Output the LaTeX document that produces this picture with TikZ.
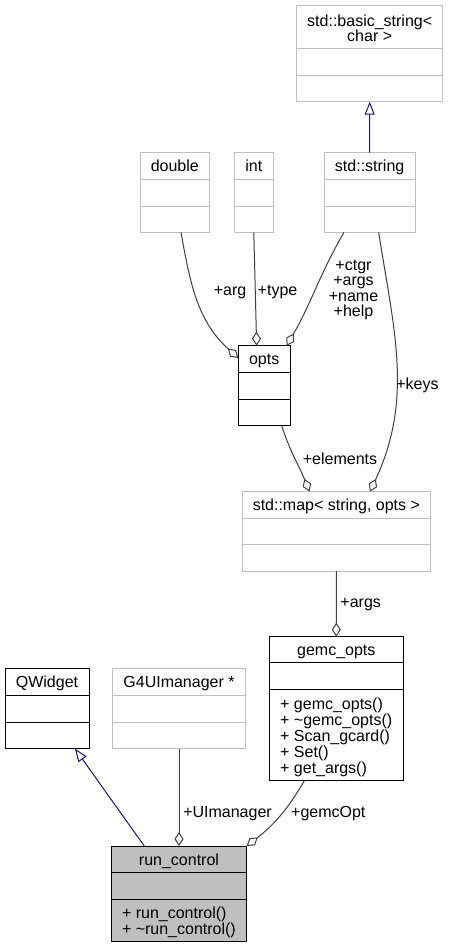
\documentclass[tikz,border=0pt]{standalone}
\usepackage{fontspec}
\setmainfont{Liberation Sans}
\usetikzlibrary{
  arrows.meta,
  positioning,
}
\definecolor{extgray}{HTML}{BFBFBF}
\definecolor{edgegray}{HTML}{404040}
\definecolor{inhblue}{HTML}{191970}
\tikzset{
  cls/.style={
    rectangle,
    draw=black,
    line width=1pt,
    anchor=north west,
    inner sep=0,
    outer sep=0,
  },
  ext/.style={
    cls,
    draw=extgray,
  },
  boxsize/.style 2 args={
    minimum width=#1,
    minimum height=#2,
  },
  sep/.style={
    line width=1pt,
  },
  title/.style={
    inner sep=0,
    text height=12,
    text depth=0.6,
  },
  members/.style={
    inner sep=0,
    anchor=west,
    align=left,
  },
  assoc/.style={
    draw=edgegray,
    line width=1pt,
    -{Diamond[open, length=14pt, width=9pt]},
  },
  inherit/.style={
    draw=inhblue,
    line width=1pt,
    -{Triangle[open, length=13pt, width=10pt]},
  },
}

\begin{document}
\begin{tikzpicture}[
    x=1pt, y=-1pt,
    font=\fontsize{16}{16}\selectfont,
  ]
  \fill[white] (0,0) rectangle (448,948);
  \useasboundingbox (0,0) rectangle (448,948);

  % Library classes
  \node (basic_str) [ext, boxsize={146}{96}] at (296.7,5.7) {};
  \node (dbl) [ext, boxsize={69}{79.6}] at (140.3,152.7) {};
  \node (int) [ext, boxsize={39}{79.6}] at (234.3,152.7) {};
  \node (std_str) [ext, boxsize={90.7}{79.6}] at (324.3,152.7) {};
  \node (str_map) [ext, boxsize={188.7}{79.3}] at (242,491.7) {};
  \node (uimanager) [ext, boxsize={132.6}{80}] at (112.7,668.7) {};

  % Documented classes
  \node (opts) [cls, boxsize={51.7}{80}] at (238.3,345.7) {};
  \node (gemc_opts) [cls, boxsize={134}{144}] at (269.3,636.7) {};
  \node (qwidget) [cls, boxsize={84}{80}] at (5,668.7) {};
  \node (run_ctrl) [cls, boxsize={135.4}{95.7}, fill=gray!50] at (111.3,846) {};

  % Compartments
  \draw[extgray, sep] ([yshift=-42.6]basic_str.north west) -- ([yshift=-42.6]basic_str.north east);
  \draw[extgray, sep] ([yshift=-69.3]basic_str.north west) -- ([yshift=-69.3]basic_str.north east);
  \draw[extgray, sep] ([yshift=-26.6]dbl.north west) -- ([yshift=-26.6]dbl.north east);
  \draw[extgray, sep] ([yshift=-53.3]dbl.north west) -- ([yshift=-53.3]dbl.north east);
  \draw[extgray, sep] ([yshift=-26.6]int.north west) -- ([yshift=-26.6]int.north east);
  \draw[extgray, sep] ([yshift=-53.3]int.north west) -- ([yshift=-53.3]int.north east);
  \draw[extgray, sep] ([yshift=-26.6]std_str.north west) -- ([yshift=-26.6]std_str.north east);
  \draw[extgray, sep] ([yshift=-53.3]std_str.north west) -- ([yshift=-53.3]std_str.north east);
  \draw[extgray, sep] ([yshift=-26.6]str_map.north west) -- ([yshift=-26.6]str_map.north east);
  \draw[extgray, sep] ([yshift=-53]str_map.north west) -- ([yshift=-53]str_map.north east);
  \draw[extgray, sep] ([yshift=-26.6]uimanager.north west) -- ([yshift=-26.6]uimanager.north east);
  \draw[extgray, sep] ([yshift=-53.3]uimanager.north west) -- ([yshift=-53.3]uimanager.north east);
  \draw[sep] ([yshift=-26.6]opts.north west) -- ([yshift=-26.6]opts.north east);
  \draw[sep] ([yshift=-53.3]opts.north west) -- ([yshift=-53.3]opts.north east);
  \draw[sep] ([yshift=-26]gemc_opts.north west) -- ([yshift=-26]gemc_opts.north east);
  \draw[sep] ([yshift=-52.6]gemc_opts.north west) -- ([yshift=-52.6]gemc_opts.north east);
  \draw[sep] ([yshift=-26.6]qwidget.north west) -- ([yshift=-26.6]qwidget.north east);
  \draw[sep] ([yshift=-53.3]qwidget.north west) -- ([yshift=-53.3]qwidget.north east);
  \draw[sep] ([yshift=-26.7]run_ctrl.north west) -- ([yshift=-26.7]run_ctrl.north east);
  \draw[sep] ([yshift=-53.3]run_ctrl.north west) -- ([yshift=-53.3]run_ctrl.north east);

  % Class names
  \node (basic_str_t) [inner sep=0, align=center, font=\fontsize{16}{15}\selectfont]
    at ([yshift=-22.2]basic_str.north) {std::basic\_string<\\char >};
  \node (dbl_t) [title] at ([yshift=-13.3]dbl.north) {double};
  \node (int_t) [title] at ([yshift=-13.3]int.north) {int};
  \node (std_str_t) [title] at ([yshift=-13.3]std_str.north) {std::string};
  \node (str_map_t) [title] at ([yshift=-13.3]str_map.north) {std::map< string, opts >};
  \node (uimanager_t) [title] at ([yshift=-13.3]uimanager.north) {G4UImanager *};
  \node (opts_t) [title] at ([yshift=-13.3]opts.north) {opts};
  \node (gemc_opts_t) [title] at ([yshift=-13]gemc_opts.north) {gemc\_opts};
  \node (qwidget_t) [title] at ([yshift=-13.3]qwidget.north) {QWidget};
  \node (run_ctrl_t) [title] at ([yshift=-13.3]run_ctrl.north) {run\_control};

  % Methods
  \node (gemc_opts_m) [members] at ([xshift=10.7, yshift=-100.3]gemc_opts.north west)
    {+ gemc\_opts()\\+ \textasciitilde gemc\_opts()\\+ Scan\_gcard()\\+ Set()\\+ get\_args()};
  \node (run_ctrl_m) [members] at ([xshift=10.5, yshift=-75.9]run_ctrl.north west)
    {+ run\_control()\\+ \textasciitilde run\_control()};

  % Arrows
  \draw [inherit] (std_str) -- (basic_str);
  \draw [inherit] ([xshift=-34.7]run_ctrl.north) -- ([xshift=28]qwidget.south);
  \draw [assoc] ([xshift=6.2]dbl.south) to[out=-80, in=138] ([yshift=-12.3]opts.north west);
  \draw [assoc] (int.south) -- ([xshift=-7.5]opts.north);
  \draw [assoc] ([xshift=-25.7]std_str.south) to[out=-120, in=60] ([xshift=-3.3]opts.north east);
  \draw [assoc] ([xshift=9]std_str.south) to[out=-81, in=65] ([xshift=33.6]str_map.north);
  \draw [assoc] ([xshift=17.5]opts.south) to[out=-72, in=112] ([xshift=-26.8]str_map.north);
  \draw [assoc] (str_map) -- (gemc_opts);
  \draw [assoc] (uimanager) -- (run_ctrl);
  \draw [assoc] ([xshift=-32]gemc_opts.south) to[out=-120, in=38] (run_ctrl.north east);

  % Labels
  \node (arg_l) [title] at (230,289.3) {+arg};
  \node (type_l) [title] at (277.5,289.3) {+type};
  \node (str_l) [inner sep=0, align=center, font=\fontsize{16}{15.6}\selectfont]
    at (353.5,290) {+ctgr\\+args\\+name\\+help};
  \node (keys_l) [title] at (417.5,383.8) {+keys};
  \node (elem_l) [title] at (340,459) {+elements};
  \node (args_l) [title] at (360.7,601.3) {+args};
  \node (uim_l) [title] at (227.5,811.3) {+UImanager};
  \node (gemc_l) [title] at (328.3,811.3) {+gemcOpt};

\end{tikzpicture}
\end{document}
